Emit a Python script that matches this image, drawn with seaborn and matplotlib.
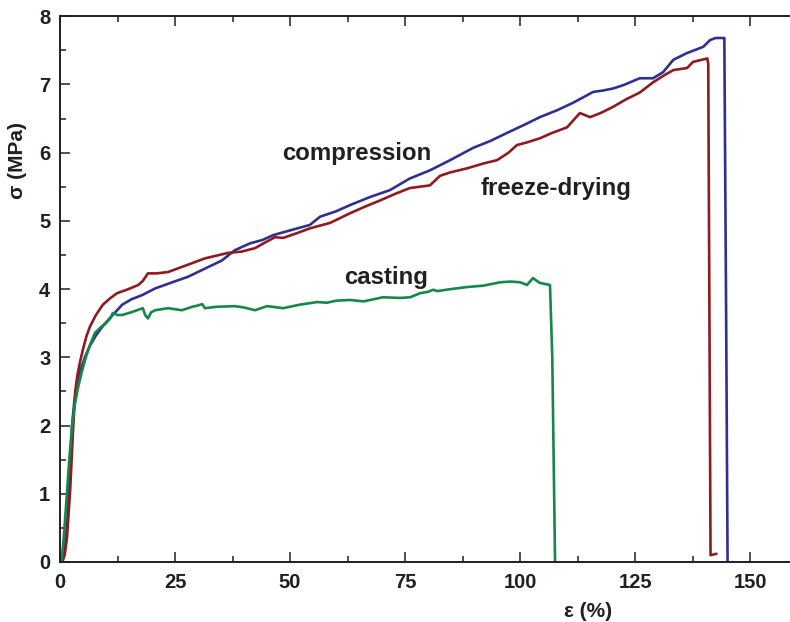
import numpy as np
import pandas as pd
import matplotlib
matplotlib.use("Agg")
import matplotlib.pyplot as plt
from matplotlib.ticker import MultipleLocator
import seaborn as sns

# strain (%) / stress (MPa)
comp_x = [0.3, 1.0, 1.6, 2.1, 2.6, 3.1, 3.7, 4.4, 5.4, 6.5, 7.8, 9.1, 10.5, 12.0, 13.5,
          15.5, 17.8, 20.7, 24.0, 27.8, 31.5, 35.2, 38.0, 41.3, 44.0, 46.3, 50.0, 54.3,
          56.5, 60.0, 63.0, 67.4, 71.7, 76.0, 80.4, 84.8, 89.8, 93.5, 97.2, 101.0, 104.3,
          108.0, 111.5, 115.9, 118.0, 120.2, 122.5, 126.0, 128.9, 131.1, 133.3, 136.3,
          139.8, 141.3, 142.5, 144.1, 144.4, 144.8, 145.1]
comp_y = [0.0, 0.15, 0.6, 1.3, 2.0, 2.35, 2.6, 2.8, 3.0, 3.17, 3.32, 3.44, 3.55, 3.66,
          3.77, 3.85, 3.91, 4.01, 4.09, 4.18, 4.30, 4.42, 4.57, 4.67, 4.72, 4.79, 4.86,
          4.94, 5.06, 5.14, 5.23, 5.35, 5.45, 5.62, 5.74, 5.89, 6.07, 6.17, 6.29, 6.41,
          6.52, 6.62, 6.73, 6.89, 6.91, 6.94, 6.99, 7.09, 7.09, 7.18, 7.36, 7.46, 7.55,
          7.65, 7.68, 7.68, 7.68, 3.5, 0.0]

fd_x = [0.5, 1.0, 1.5, 2.2, 2.8, 3.3, 3.8, 4.4, 5.0, 5.7, 6.5, 7.8, 9.3, 10.8, 12.4,
        14.5, 17.0, 18.0, 19.1, 21.0, 23.5, 27.5, 31.5, 34.0, 36.5, 39.5, 42.4, 44.5,
        46.7, 48.5, 51.5, 54.3, 58.7, 63.0, 66.0, 69.6, 73.0, 76.0, 80.4, 82.6, 84.8,
        88.5, 92.0, 95.0, 97.5, 99.3, 101.5, 104.3, 107.0, 110.2, 113.0, 115.2, 117.5,
        120.2, 123.0, 126.0, 128.9, 131.0, 133.3, 136.3, 137.6, 140.7, 140.9, 141.4, 142.7]
fd_y = [0.0, 0.1, 0.35, 1.05, 1.9, 2.5, 2.75, 2.95, 3.12, 3.3, 3.45, 3.62, 3.77, 3.86,
        3.94, 3.99, 4.06, 4.12, 4.23, 4.23, 4.25, 4.35, 4.45, 4.49, 4.53, 4.55, 4.60,
        4.68, 4.76, 4.75, 4.82, 4.89, 4.97, 5.11, 5.20, 5.30, 5.40, 5.48, 5.52, 5.66,
        5.71, 5.77, 5.84, 5.89, 6.00, 6.11, 6.15, 6.21, 6.29, 6.37, 6.58, 6.52, 6.58,
        6.67, 6.78, 6.88, 7.03, 7.12, 7.21, 7.24, 7.33, 7.38, 7.30, 0.10, 0.12]

cast_x = [0.3, 0.8, 1.5, 2.0, 2.6, 3.2, 3.9, 4.7, 5.6, 6.5, 7.6, 9.0, 10.0, 10.9, 11.5,
          12.5, 13.5, 15.5, 18.0, 18.5, 19.1, 19.8, 20.7, 23.5, 26.5, 28.7, 30.0, 30.9,
          31.5, 34.0, 38.0, 40.0, 42.4, 45.0, 48.5, 52.0, 55.9, 58.0, 60.0, 63.0, 66.0,
          70.2, 73.9, 76.1, 78.3, 80.0, 81.1, 82.0, 85.0, 88.5, 92.0, 95.7, 98.0, 100.0,
          101.5, 102.8, 104.3, 106.5, 107.0, 107.6]
cast_y = [0.0, 0.35, 1.01, 1.5, 1.98, 2.3, 2.55, 2.78, 3.0, 3.18, 3.36, 3.45, 3.5,
          3.57, 3.65, 3.62, 3.62, 3.66, 3.72, 3.62, 3.57, 3.66, 3.69, 3.72, 3.69, 3.74,
          3.76, 3.78, 3.72, 3.74, 3.75, 3.73, 3.69, 3.75, 3.72, 3.77, 3.81, 3.80, 3.83,
          3.84, 3.82, 3.88, 3.87, 3.88, 3.94, 3.96, 3.99, 3.97, 4.00, 4.03, 4.05, 4.10,
          4.11, 4.10, 4.06, 4.16, 4.09, 4.06, 3.0, 0.0]

series = ["compression", "freeze-drying", "casting"]
colors = ["#2E3190", "#8E1B1F", "#14884A"]

frames = []
for name, xs, ys in zip(series, [comp_x, fd_x, cast_x], [comp_y, fd_y, cast_y]):
    frames.append(pd.DataFrame({"strain": xs, "stress": ys, "method": name,
                                "order": np.arange(len(xs))}))
data = pd.concat(frames, ignore_index=True)

sns.set_style("ticks")
plt.rcParams["font.family"] = ["Liberation Sans", "DejaVu Sans"]
plt.rcParams["font.weight"] = "bold"

ink = "#231F20"
fig = plt.figure(figsize=(7.9, 6.22), dpi=100)
ax = fig.add_axes([0.076, 0.0965, 0.923, 0.8775])

for name, col in zip(series, colors):
    sub = data[data["method"] == name]
    sns.lineplot(data=sub, x="strain", y="stress", sort=False, estimator=None,
                 color=col, linewidth=1.9, ax=ax, legend=False)

ax.set_xlim(0, 158.5)
ax.set_ylim(0, 8)
ax.xaxis.set_major_locator(MultipleLocator(25))
ax.xaxis.set_minor_locator(MultipleLocator(12.5))
ax.yaxis.set_major_locator(MultipleLocator(1))
ax.yaxis.set_minor_locator(MultipleLocator(0.5))

for s in ["left", "bottom", "top"]:
    ax.spines[s].set_linewidth(1.4)
    ax.spines[s].set_color(ink)
ax.spines["right"].set_visible(False)

ax.tick_params(which="both", direction="in", top=True, right=False, color=ink, width=1.1)
ax.tick_params(which="major", length=7.5, labelsize=14.5, labelcolor=ink)
ax.tick_params(which="minor", length=4)
ax.tick_params(axis="x", which="major", pad=8)
ax.tick_params(axis="y", which="major", pad=7)
for lab in ax.get_xticklabels() + ax.get_yticklabels():
    lab.set_fontweight("bold")

ax.set_xlabel("ε (%)", fontsize=15, fontweight="bold", color=ink)
ax.set_ylabel("σ (MPa)", fontsize=15, fontweight="bold", color=ink)
ax.xaxis.set_label_coords(0.724, -0.073)
ax.yaxis.set_label_coords(-0.045, 0.735)

ax.text(64.6, 5.89, "compression", fontsize=17.3, fontweight="bold", color=ink,
        ha="center", va="baseline")
ax.text(107.8, 5.38, "freeze-drying", fontsize=17.3, fontweight="bold", color=ink,
        ha="center", va="baseline")
ax.text(70.9, 4.07, "casting", fontsize=17.3, fontweight="bold", color=ink,
        ha="center", va="baseline")

fig.savefig("out.png", dpi=100)
